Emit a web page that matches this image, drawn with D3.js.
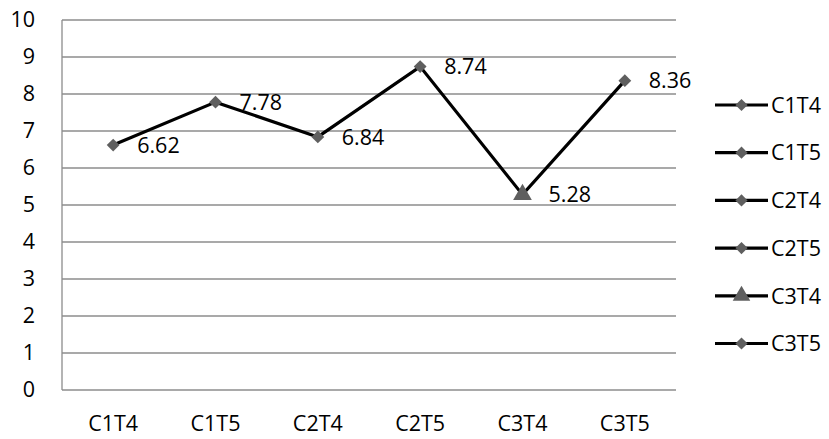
<!DOCTYPE html>
<html>
<head>
<meta charset="utf-8">
<script src="https://cdn.jsdelivr.net/npm/d3@7"></script>
<style>
  html, body { margin: 0; padding: 0; background: #fff; }
  svg text { font-family: "Open Sans", "Noto Sans", sans-serif; fill: #000; }
</style>
</head>
<body>
<svg id="chart" width="829" height="439"></svg>
<script>
// Mean scores per condition
const categories = ["C1T4", "C1T5", "C2T4", "C2T5", "C3T4", "C3T5"];
const values = [6.62, 7.78, 6.84, 8.74, 5.28, 8.36];
const markerShapes = ["diamond", "diamond", "diamond", "diamond", "triangle", "diamond"];
const yTicks = [0, 1, 2, 3, 4, 5, 6, 7, 8, 9, 10];

const svg = d3.select("#chart");
const plot = { left: 62, right: 676, top: 20, bottom: 390 };

const x = d3.scaleBand().domain(categories).range([plot.left, plot.right]);
const y = d3.scaleLinear().domain([0, 10]).range([plot.bottom, plot.top]);

const gridColor = "#8c8c8c";
const markerColor = "#5f5f5f";
const fontSize = 21.5;

// horizontal gridlines
svg.append("g")
  .selectAll("line")
  .data(yTicks)
  .join("line")
  .attr("x1", plot.left).attr("x2", plot.right)
  .attr("y1", d => y(d)).attr("y2", d => y(d))
  .attr("stroke", gridColor).attr("stroke-width", 1.3);

// left axis line
svg.append("line")
  .attr("x1", plot.left).attr("x2", plot.left)
  .attr("y1", y(10)).attr("y2", y(0))
  .attr("stroke", gridColor).attr("stroke-width", 1.3);

// y tick labels
const yAxis = d3.axisLeft(y).tickValues(yTicks).tickSize(0).tickPadding(0);
const gy = svg.append("g").attr("transform", "translate(35,0)").call(yAxis);
gy.select(".domain").remove();
gy.selectAll("text")
  .attr("font-size", fontSize)
  .attr("font-family", "'Open Sans', sans-serif")
  .attr("fill", "#000");

// x tick labels
const xAxis = d3.axisBottom(x).tickSize(0).tickPadding(0);
const gx = svg.append("g").attr("transform", "translate(0,416)").call(xAxis);
gx.select(".domain").remove();
gx.selectAll("text")
  .attr("font-size", fontSize)
  .attr("font-family", "'Open Sans', sans-serif")
  .attr("fill", "#000");

const cx = c => x(c) + x.bandwidth() / 2;

// connecting line
const line = d3.line()
  .x((d, i) => cx(categories[i]))
  .y(d => y(d));
svg.append("path")
  .datum(values)
  .attr("d", line)
  .attr("fill", "none")
  .attr("stroke", "#000")
  .attr("stroke-width", 3.2)
  .attr("stroke-linejoin", "miter");

const symbolFor = (shape, size) => d3.symbol()
  .type(shape === "triangle" ? d3.symbolTriangle2 : d3.symbolDiamond2)
  .size(size)();

// markers
svg.append("g")
  .selectAll("path")
  .data(values)
  .join("path")
  .attr("transform", (d, i) => `translate(${cx(categories[i])},${y(d)})`)
  .attr("d", (d, i) => markerShapes[i] === "triangle" ? symbolFor("triangle", 250) : symbolFor("diamond", 105))
  .attr("fill", markerColor);

// value labels
svg.append("g")
  .selectAll("text")
  .data(values)
  .join("text")
  .attr("x", (d, i) => cx(categories[i]) + (markerShapes[i] === "triangle" ? 26 : 24))
  .attr("y", d => y(d))
  .attr("dy", "0.36em")
  .attr("font-size", fontSize)
  .text(d => d.toFixed(2));

// legend
const legend = svg.append("g")
  .selectAll("g")
  .data(categories)
  .join("g")
  .attr("transform", (d, i) => `translate(0,${105 + i * 47.7})`);
legend.append("line")
  .attr("x1", 715).attr("x2", 768)
  .attr("y1", 0).attr("y2", 0)
  .attr("stroke", "#000").attr("stroke-width", 3.2);
legend.append("path")
  .attr("transform", "translate(741.5,0)")
  .attr("d", (d, i) => markerShapes[i] === "triangle" ? symbolFor("triangle", 220) : symbolFor("diamond", 95))
  .attr("fill", markerColor);
legend.append("text")
  .attr("x", 771)
  .attr("y", 0)
  .attr("dy", "0.36em")
  .attr("font-size", fontSize)
  .text(d => d);
</script>
</body>
</html>
